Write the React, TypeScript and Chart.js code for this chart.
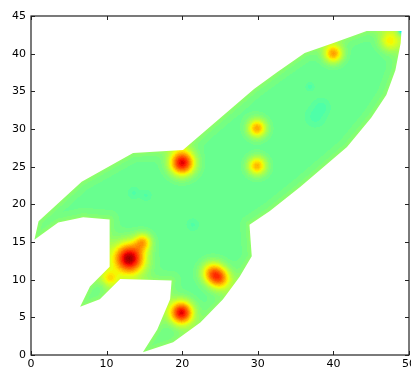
import { useEffect, useRef } from 'react';
import { Chart, registerables } from 'chart.js';

Chart.register(...registerables);

// Rocket outline (data coordinates)
const outlineX = [49.0, 44.4, 40.0, 36.2, 32.5, 29.5, 20.1, 13.5, 6.7, 1.0, 0.45, 3.6, 6.9, 10.4, 10.4, 7.8, 6.5, 9.1, 11.8, 18.6, 18.4, 16.7, 14.8, 18.8, 22.4, 25.4, 27.6, 29.2, 28.9, 31.6, 35.6, 41.8, 45.0, 47.0, 48.2, 48.9];
const outlineY = [43.0, 43.0, 41.4, 40.1, 37.5, 35.3, 27.2, 26.8, 23.0, 17.75, 15.3, 17.6, 18.3, 18.0, 11.7, 9.1, 6.4, 7.4, 10.1, 9.9, 7.4, 3.4, 0.35, 1.7, 4.3, 7.4, 10.4, 13.1, 17.3, 19.1, 22.3, 27.6, 31.5, 34.5, 37.8, 41.4];

// Field features: centres, peak level (0..1 colormap value), spread (data units)
const spotX = [13.0, 20.0, 19.9, 24.0, 25.0, 29.9, 29.9, 40.0, 47.5, 14.8, 10.4, 49.4, 37.6, 38.4, 36.9, 21.4, 13.6, 15.2];
const spotY = [12.8, 25.5, 5.6, 10.9, 10.1, 30.1, 25.1, 40.0, 41.7, 15.0, 10.2, 43.3, 31.6, 32.9, 35.6, 17.3, 21.5, 21.2];
const spotPeak = [0.97, 0.91, 0.91, 0.72, 0.72, 0.73, 0.72, 0.73, 0.645, 0.68, 0.65, 0.0, 0.445, 0.445, 0.445, 0.45, 0.45, 0.45];
const spotSigma = [1.4, 1.1, 1.05, 1.0, 1.0, 0.85, 0.85, 0.85, 0.95, 0.8, 0.8, 0.45, 0.8, 0.7, 0.35, 0.5, 0.5, 0.45];

const baseLevel = 0.475;
const edgeLevel = 0.05;
const levelCount = 64;

const xTicks = [0, 10, 20, 30, 40, 50];
const yTicks = [0, 5, 10, 15, 20, 25, 30, 35, 40, 45];

// matplotlib "jet" segment data
const jetR = [[0, 0], [0.35, 0], [0.66, 1], [0.89, 1], [1, 0.5]];
const jetG = [[0, 0], [0.125, 0], [0.375, 1], [0.64, 1], [0.91, 0], [1, 0]];
const jetB = [[0, 0.5], [0.11, 1], [0.34, 1], [0.65, 0], [1, 0]];

function seg(tab: number[][], v: number) {
  for (let i = 1; i < tab.length; i++) {
    if (v <= tab[i][0]) {
      const [x0, y0] = tab[i - 1];
      const [x1, y1] = tab[i];
      return y0 + ((v - x0) / (x1 - x0)) * (y1 - y0);
    }
  }
  return tab[tab.length - 1][1];
}

const heatPlugin = {
  id: 'heat',
  beforeDatasetsDraw(chart: any) {
    const { ctx, chartArea: a, scales } = chart;
    const xs = scales.x, ys = scales.y;
    const L = Math.floor(a.left), T = Math.floor(a.top);
    const W = Math.ceil(a.right) - L, H = Math.ceil(a.bottom) - T;
    const off = document.createElement('canvas');
    off.width = W; off.height = H;
    const octx = off.getContext('2d')!;
    const img = octx.createImageData(W, H);
    const colX = new Float64Array(W);
    const rowY = new Float64Array(H);
    for (let i = 0; i < W; i++) colX[i] = xs.getValueForPixel(L + i + 0.5);
    for (let j = 0; j < H; j++) rowY[j] = ys.getValueForPixel(T + j + 0.5);
    const lut: number[][] = [];
    for (let k = 0; k < levelCount; k++) {
      const v = (k + 0.5) / levelCount;
      lut.push([seg(jetR, v) * 255, seg(jetG, v) * 255, seg(jetB, v) * 255]);
    }
    const n = outlineX.length;
    for (let j = 0; j < H; j++) {
      const py = rowY[j];
      for (let i = 0; i < W; i++) {
        const px = colX[i];
        let v = baseLevel;
        for (let k = 0; k < spotX.length; k++) {
          const dx = px - spotX[k], dy = py - spotY[k];
          const s = spotSigma[k];
          const e = (dx * dx + dy * dy) / (2 * s * s);
          if (e < 20) v += (spotPeak[k] - baseLevel) * Math.exp(-e);
        }
        let d2 = Infinity;
        for (let k = 0; k < n; k++) {
          const ax = outlineX[k], ay = outlineY[k];
          const bx = outlineX[(k + 1) % n], by = outlineY[(k + 1) % n];
          const ex = bx - ax, ey = by - ay;
          let t = ((px - ax) * ex + (py - ay) * ey) / (ex * ex + ey * ey);
          t = t < 0 ? 0 : t > 1 ? 1 : t;
          const qx = ax + t * ex - px, qy = ay + t * ey - py;
          const dd = qx * qx + qy * qy;
          if (dd < d2) d2 = dd;
        }
        v += edgeLevel * Math.exp(-Math.sqrt(d2) / 0.75);
        let band = Math.floor(v * levelCount);
        if (band < 0) band = 0;
        if (band >= levelCount) band = levelCount - 1;
        const c = lut[band];
        const o = (j * W + i) * 4;
        img.data[o] = c[0]; img.data[o + 1] = c[1]; img.data[o + 2] = c[2]; img.data[o + 3] = 255;
      }
    }
    octx.putImageData(img, 0, 0);
    ctx.save();
    ctx.beginPath();
    for (let k = 0; k < n; k++) {
      const X = xs.getPixelForValue(outlineX[k]);
      const Y = ys.getPixelForValue(outlineY[k]);
      if (k === 0) ctx.moveTo(X, Y); else ctx.lineTo(X, Y);
    }
    ctx.closePath();
    ctx.clip();
    ctx.drawImage(off, L, T);
    ctx.restore();
  },
};

const framePlugin = {
  id: 'frame',
  afterDraw(chart: any) {
    const { ctx, chartArea: a, scales } = chart;
    ctx.save();
    ctx.strokeStyle = '#222';
    ctx.lineWidth = 1.2;
    ctx.strokeRect(a.left, a.top, a.right - a.left, a.bottom - a.top);
    ctx.beginPath();
    for (const t of xTicks) {
      const X = Math.round(scales.x.getPixelForValue(t)) + 0.5;
      ctx.moveTo(X, a.bottom); ctx.lineTo(X, a.bottom - 4);
      ctx.moveTo(X, a.top); ctx.lineTo(X, a.top + 4);
    }
    for (const t of yTicks) {
      const Y = Math.round(scales.y.getPixelForValue(t)) + 0.5;
      ctx.moveTo(a.left, Y); ctx.lineTo(a.left + 4, Y);
      ctx.moveTo(a.right, Y); ctx.lineTo(a.right - 4, Y);
    }
    ctx.lineWidth = 1;
    ctx.stroke();
    ctx.restore();
  },
};

export default function App() {
  const ref = useRef<HTMLCanvasElement>(null);
  useEffect(() => {
    document.body.style.margin = '0';
    const chart = new Chart(ref.current!, {
      type: 'scatter',
      data: {
        datasets: [
          {
            data: outlineX.map((x, i) => ({ x, y: outlineY[i] })),
            pointRadius: 0,
            showLine: false,
          },
        ],
      },
      options: {
        animation: false,
        responsive: false,
        devicePixelRatio: 1,
        layout: { padding: { top: 16, right: 2, left: 0, bottom: 0 } },
        plugins: { legend: { display: false }, tooltip: { enabled: false } },
        scales: {
          x: {
            type: 'linear',
            min: 0,
            max: 50,
            afterBuildTicks: (s: any) => { s.ticks = xTicks.map((v) => ({ value: v })); },
            afterFit: (s: any) => { s.height = 18; s.paddingLeft = 0; s.paddingRight = 0; },
            ticks: { padding: 3, color: '#000', font: { family: 'DejaVu Sans', size: 11 }, maxRotation: 0, autoSkip: false },
            grid: { display: false, drawTicks: false },
            border: { display: false },
          },
          y: {
            type: 'linear',
            min: 0,
            max: 45,
            afterBuildTicks: (s: any) => { s.ticks = yTicks.map((v) => ({ value: v })); },
            afterFit: (s: any) => { s.width = 31; s.paddingTop = 0; s.paddingBottom = 0; },
            ticks: { padding: 5, color: '#000', font: { family: 'DejaVu Sans', size: 11 }, autoSkip: false },
            grid: { display: false, drawTicks: false },
            border: { display: false },
          },
        },
      },
      plugins: [heatPlugin, framePlugin],
    });
    return () => chart.destroy();
  }, []);
  return <canvas ref={ref} width={411} height={373} style={{ display: 'block' }} />;
}
